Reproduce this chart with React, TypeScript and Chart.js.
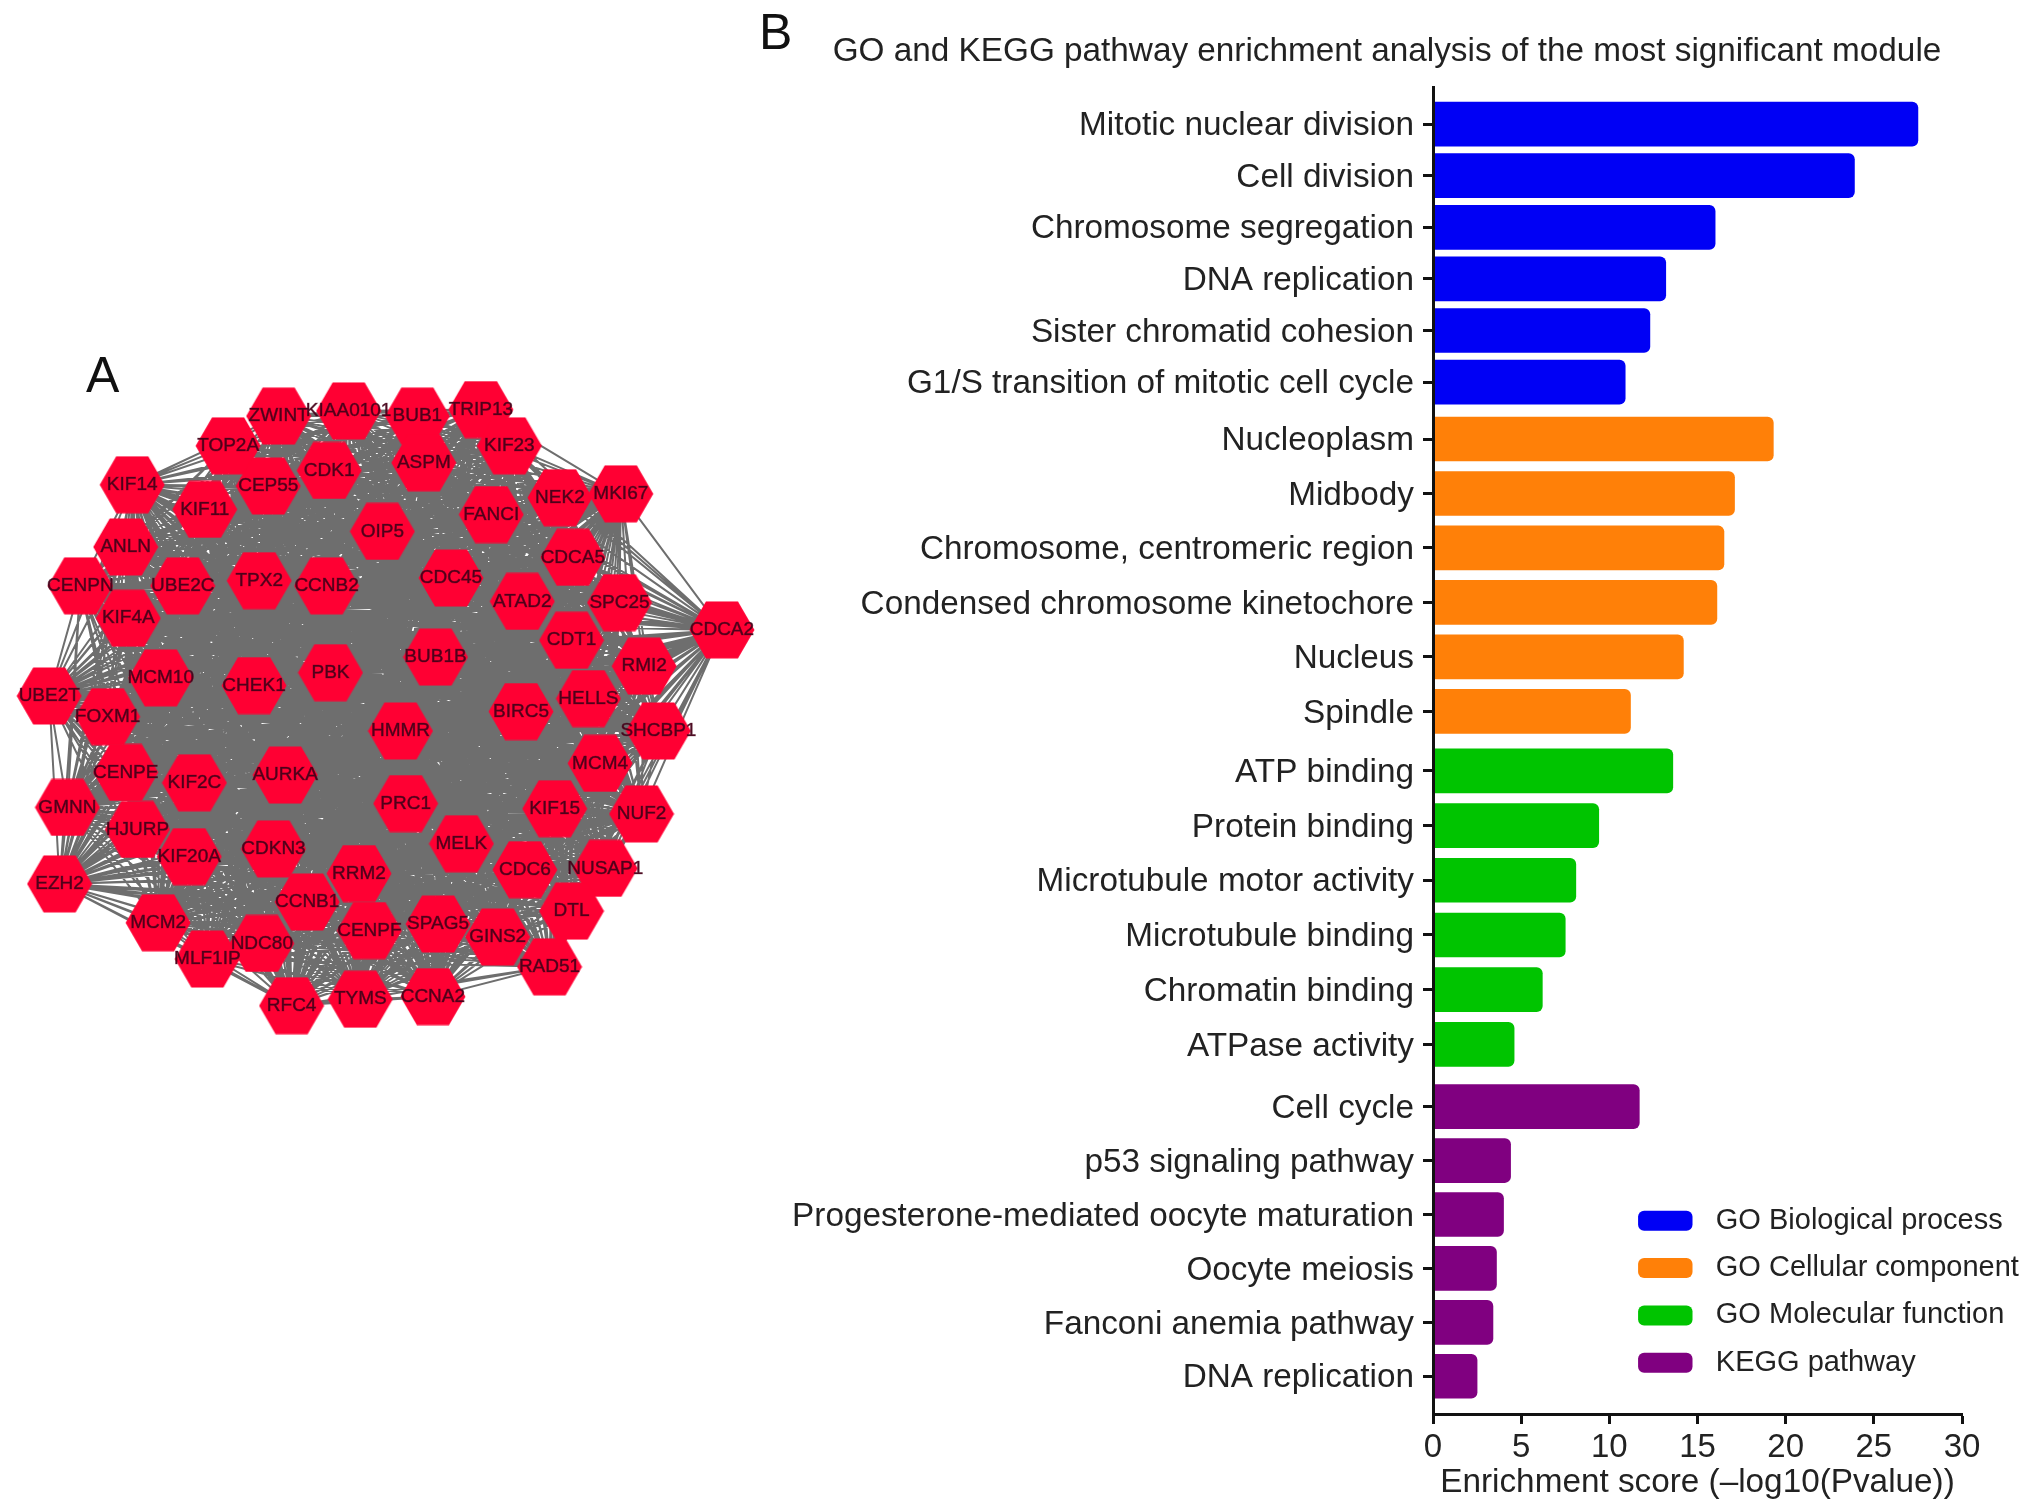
import React, { useEffect, useRef } from "react";
import { Chart, registerables } from "chart.js";

Chart.register(...registerables);

const FONT = "'Liberation Sans', Arial, sans-serif";
const INK = "#222222";

// ---- Panel B data ----
const bioLabels = ["Mitotic nuclear division", "Cell division", "Chromosome segregation", "DNA replication", "Sister chromatid cohesion", "G1/S transition of mitotic cell cycle"];
const bioValues = [27.5, 23.9, 16.0, 13.2, 12.3, 10.9];
const cellLabels = ["Nucleoplasm", "Midbody", "Chromosome, centromeric region", "Condensed chromosome kinetochore", "Nucleus", "Spindle"];
const cellValues = [19.3, 17.1, 16.5, 16.1, 14.2, 11.2];
const molLabels = ["ATP binding", "Protein binding", "Microtubule motor activity", "Microtubule binding", "Chromatin binding", "ATPase activity"];
const molValues = [13.6, 9.4, 8.1, 7.5, 6.2, 4.6];
const keggLabels = ["Cell cycle", "p53 signaling pathway", "Progesterone-mediated oocyte maturation", "Oocyte meiosis", "Fanconi anemia pathway", "DNA replication"];
const keggValues = [11.7, 4.4, 4.0, 3.6, 3.4, 2.5];
const seriesNames = ["GO Biological process", "GO Cellular component", "GO Molecular function", "KEGG pathway"];
const seriesColors = ["#0000F5", "#FF8008", "#00C400", "#800080"];
const xTickStep = 5;
const xMax = 30;

// ---- Panel A data (network layout units) ----
const nodeNames = ["ZWINT","KIAA0101","BUB1","TRIP13","TOP2A","KIF23","CDK1","ASPM","CEP55","KIF14","KIF11","FANCI","NEK2","MKI67","OIP5","ANLN","CDCA5","TPX2","CCNB2","UBE2C","CENPN","CDC45","ATAD2","SPC25","KIF4A","CDCA2","CDT1","BUB1B","RMI2","PBK","MCM10","CHEK1","UBE2T","HELLS","BIRC5","FOXM1","HMMR","SHCBP1","MCM4","AURKA","CENPE","KIF2C","GMNN","KIF15","PRC1","NUF2","HJURP","KIF20A","CDKN3","MELK","CDC6","NUSAP1","RRM2","EZH2","CCNB1","DTL","MCM2","SPAG5","CENPF","GINS2","NDC80","MLF1IP","RAD51","RFC4","TYMS","CCNA2"];
const nodeX = [215,269,322,371,176,393,254,327,207,102,158,379,432,479,295,97,442,200,252,141,62,348,403,478,99,557,441,336,497,255,124,196,38,454,402,83,309,508,463,220,97,150,52,428,313,495,106,146,211,356,405,467,277,46,237,441,122,338,285,384,202,160,424,225,278,334];
const nodeY = [321,317,321,316,344,344,363,357,375,374,393,397,384,381,410,422,430,448,452,452,452,446,464,465,477,486,494,507,514,519,523,529,537,539,549,553,564,564,589,598,596,604,623,624,620,628,640,661,655,651,671,670,674,682,696,703,712,713,718,723,728,740,746,776,771,769];

// Rows of the bar panel: where each group starts and how far apart its rows are, in row units.
const groupStart = [0, 5.84, 11.995, 18.22];
const groupSpacing = [0.957, 1.01, 1.014, 1.0];
const groupLabels = [bioLabels, cellLabels, molLabels, keggLabels];
const groupValues = [bioValues, cellValues, molValues, keggValues];

function NetworkPanel() {
  const ref = useRef<HTMLCanvasElement>(null);
  useEffect(() => {
    const hex = document.createElement("canvas");
    hex.width = 66;
    hex.height = 58;
    const g = hex.getContext("2d")!;
    g.fillStyle = "#FF0033";
    g.beginPath();
    g.moveTo(0.5, 29);
    g.lineTo(17, 0.5);
    g.lineTo(49, 0.5);
    g.lineTo(65.5, 29);
    g.lineTo(49, 57.5);
    g.lineTo(17, 57.5);
    g.closePath();
    g.fill();

    const nodes = nodeNames.map((_, i) => ({ x: nodeX[i], y: nodeY[i] }));
    const edges: { x: number; y: number }[] = [];
    for (let i = 0; i < nodes.length; i++) {
      for (let j = i + 1; j < nodes.length; j++) {
        edges.push(nodes[i], nodes[j], { x: NaN, y: NaN });
      }
    }
    const nodeLabels = {
      id: "nodeLabels",
      afterDatasetsDraw(chart: any) {
        const { ctx, scales } = chart;
        ctx.save();
        ctx.font = `19px ${FONT}`;
        ctx.textAlign = "center";
        ctx.textBaseline = "middle";
        ctx.fillStyle = "rgba(70,0,25,0.95)";
        ctx.strokeStyle = "rgba(70,0,25,0.55)";
        ctx.lineWidth = 0.7;
        nodeNames.forEach((n, i) => {
          const x = scales.x.getPixelForValue(nodeX[i]);
          const y = scales.y.getPixelForValue(nodeY[i]);
          ctx.strokeText(n, x, y);
          ctx.fillText(n, x, y);
        });
        ctx.restore();
      },
    };
    const chart = new Chart(ref.current!, {
      type: "scatter",
      data: {
        datasets: [
          { label: "Genes", data: nodes, order: 1, pointStyle: hex as any, pointRadius: 28, pointHoverRadius: 28 },
          { label: "Interactions", data: edges, order: 2, showLine: true, pointRadius: 0, borderColor: "#6E6E6E", borderWidth: 2, spanGaps: false },
        ],
      },
      options: {
        animation: false,
        responsive: false,
        devicePixelRatio: 1,
        layout: { padding: 0, autoPadding: false },
        plugins: { legend: { display: false }, tooltip: { enabled: false } },
        scales: {
          x: { display: false, min: 0, max: 586.4 },
          y: { display: false, min: 262.3, max: 817.9, reverse: true },
        },
      },
      plugins: [nodeLabels],
    });
    return () => chart.destroy();
  }, []);
  return <canvas ref={ref} width={760} height={720} style={{ position: "absolute", left: 0, top: 340, display: "block" }} />;
}

function BarPanel() {
  const ref = useRef<HTMLCanvasElement>(null);
  useEffect(() => {
    const slots: number[] = [];
    const labels: string[] = [];
    groupLabels.forEach((ls, g) => ls.forEach((l, i) => {
      slots.push(groupStart[g] + i * groupSpacing[g]);
      labels.push(l);
    }));
    const datasets = seriesNames.map((name, g) => ({
      label: name,
      data: groupValues[g].map((v, i) => ({ x: v, y: groupStart[g] + i * groupSpacing[g] })),
      backgroundColor: seriesColors[g],
      borderWidth: 0,
      borderRadius: { topLeft: 0, bottomLeft: 0, topRight: 6, bottomRight: 6 },
      borderSkipped: false,
      barThickness: 44,
      grouped: false,
    }));
    const placeBoxes = {
      id: "placeBoxes",
      afterLayout(chart: any) {
        const lg = chart.legend;
        lg.left = 869;
        lg.right = 1290;
        lg.top = 1188;
        lg.bottom = 1500;
        const tb = chart.titleBlock;
        tb.left = 0;
        tb.right = 1290;
      },
    };
    const chart = new Chart(ref.current!, {
      type: "bar",
      data: { datasets: datasets as any },
      options: {
        animation: false,
        responsive: false,
        devicePixelRatio: 1,
        indexAxis: "y",
        layout: { padding: { right: 70 }, autoPadding: false },
        plugins: {
          tooltip: { enabled: false },
          title: {
            display: true,
            text: "GO and KEGG pathway enrichment analysis of the most significant module",
            color: INK,
            font: { family: FONT, size: 33.3, weight: "normal" },
            padding: { top: 32, bottom: 16 },
          },
          legend: {
            position: "chartArea",
            align: "start",
            labels: {
              usePointStyle: true,
              pointStyle: "rectRounded",
              pointStyleWidth: 72,
              boxHeight: 16.5,
              padding: 18.3,
              color: INK,
              font: { family: FONT, size: 29 },
            },
          },
        },
        scales: {
          x: {
            type: "linear",
            position: "bottom",
            min: 0,
            max: xMax,
            ticks: { stepSize: xTickStep, color: INK, font: { family: FONT, size: 33 }, padding: 4, maxRotation: 0 },
            grid: { display: true, drawOnChartArea: false, tickLength: 10, tickWidth: 3, tickColor: "#111" },
            border: { display: true, color: "#111", width: 3, z: 1 },
            title: { display: true, text: "Enrichment score (–log10(Pvalue))", color: INK, font: { family: FONT, size: 33.3 }, padding: { top: 0, bottom: 9.5 } },
            afterFit(s: any) { s.height = 98; },
          },
          y: {
            type: "linear",
            position: "left",
            reverse: true,
            offset: false,
            min: -0.67,
            max: 23.92,
            afterBuildTicks(s: any) { s.ticks = slots.map((v) => ({ value: v })); },
            ticks: {
              autoSkip: false,
              color: INK,
              padding: 9,
              labelOffset: 2,
              font: { family: FONT, size: 33.3 },
              callback: (_v: any, i: number) => labels[i],
            },
            grid: { display: true, offset: false, drawOnChartArea: false, tickLength: 10, tickWidth: 3, tickColor: "#111" },
            border: { display: true, color: "#111", width: 3, z: 1 },
            afterFit(s: any) { s.width = 691; },
          },
        },
      },
      plugins: [placeBoxes],
    });
    return () => chart.destroy();
  }, []);
  return <canvas ref={ref} width={1290} height={1512} style={{ position: "absolute", left: 742, top: 0, display: "block" }} />;
}

const letter = (x: number, y: number): React.CSSProperties => ({
  position: "absolute", left: x, top: y, font: `50px ${FONT}`, color: "#111", lineHeight: "50px",
});

export default function App() {
  return (
    <div style={{ position: "absolute", left: 0, top: 0, width: 2032, height: 1512, overflow: "hidden", background: "#fff" }}>
      <NetworkPanel />
      <BarPanel />
      <div style={letter(86, 350)}>A</div>
      <div style={letter(759, 7)}>B</div>
    </div>
  );
}
